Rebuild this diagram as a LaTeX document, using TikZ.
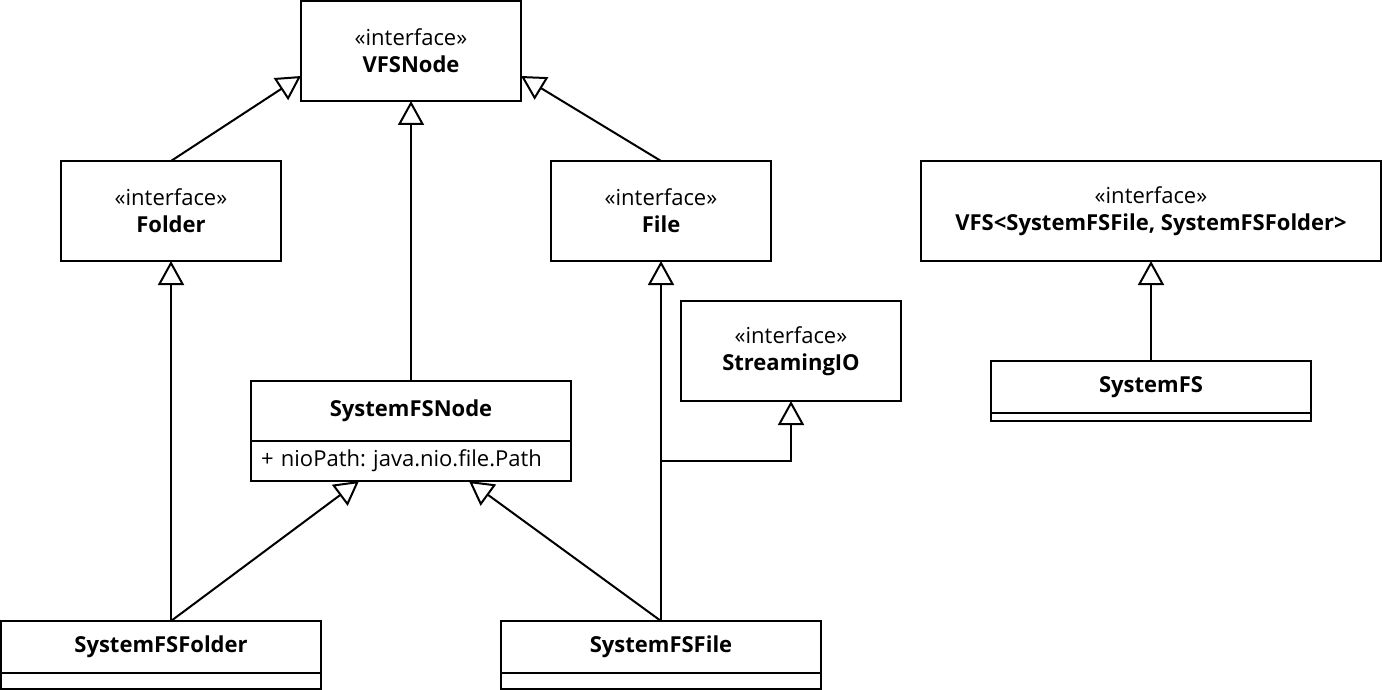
\documentclass[tikz,border=0pt]{standalone}
\usepackage{fontspec}
\setmainfont{Open Sans}
\usetikzlibrary{arrows.meta}

\begin{document}
\frenchspacing
\begin{tikzpicture}[x=1pt, y=-1pt,
	box/.style={draw, line width=2pt, minimum width=220pt, minimum height=100pt, align=center, inner sep=0pt, outer sep=0pt, font=\fontsize{22}{27}\selectfont},
	classbox/.style={box, minimum width=320pt, minimum height=52pt, font=\fontsize{22}{27}\selectfont\bfseries},
	inherit/.style={draw, line width=2pt, -{Triangle[open, length=24pt, width=26pt]}}
	]
	\useasboundingbox (0,0) rectangle (1382,690);
	
	% Interfaces
	\node[box] (vfsnode) at (411,51) {«interface»\\\textbf{VFSNode}};
	\node[box] (folder) at (171,211) {«interface»\\\textbf{Folder}};
	\node[box] (file) at (661,211) {«interface»\\\textbf{File}};
	\node[box] (streaming) at (791,351) {«interface»\\\textbf{StreamingIO}};
	\node[box, minimum width=460pt] (vfs) at (1151,211) {«interface»\\\textbf{VFS<SystemFSFile, SystemFSFolder>}};
	
	% Clases
	\node[classbox, minimum height=60pt] (fsnode) at (411,411) {SystemFSNode};
	\node[box, minimum width=320pt, minimum height=40pt, text width=300pt, align=left, anchor=north] (fsnodeattr) at (fsnode.south) {+ nioPath: java.nio.file.Path};
	\node[classbox] (fsfolder) at (161,647) {SystemFSFolder};
	\node[classbox, minimum height=16pt, anchor=north] (fsfolderattr) at (fsfolder.south) {};
	\node[classbox] (fsfile) at (661,647) {SystemFSFile};
	\node[classbox, minimum height=16pt, anchor=north] (fsfileattr) at (fsfile.south) {};
	\node[classbox] (systemfs) at (1151,387) {SystemFS};
	\node[classbox, minimum height=8pt, anchor=north] (systemfsattr) at (systemfs.south) {};
	
	\coordinate (folderstart) at ([xshift=10pt]fsfolder.north);
	\coordinate (split) at (file.south |- fsnodeattr.center);
	
	% Herencia
	\draw[inherit] (folder.north) -- ([yshift=-25pt]vfsnode.west);
	\draw[inherit] (file.north) -- ([yshift=-25pt]vfsnode.east);
	\draw[inherit] (fsnode.north) -- (vfsnode.south);
	\draw[inherit] (folderstart) -- (folder.south);
	\draw[inherit] (folderstart) -- ([xshift=-52pt]fsnodeattr.south);
	\draw[inherit] (fsfile.north) -- ([xshift=58pt]fsnodeattr.south);
	\draw[inherit] (fsfile.north) -- (file.south);
	\draw[inherit] (split) -| (streaming.south);
	\draw[inherit] (systemfs.north) -- (vfs.south);
\end{tikzpicture}
\end{document}
